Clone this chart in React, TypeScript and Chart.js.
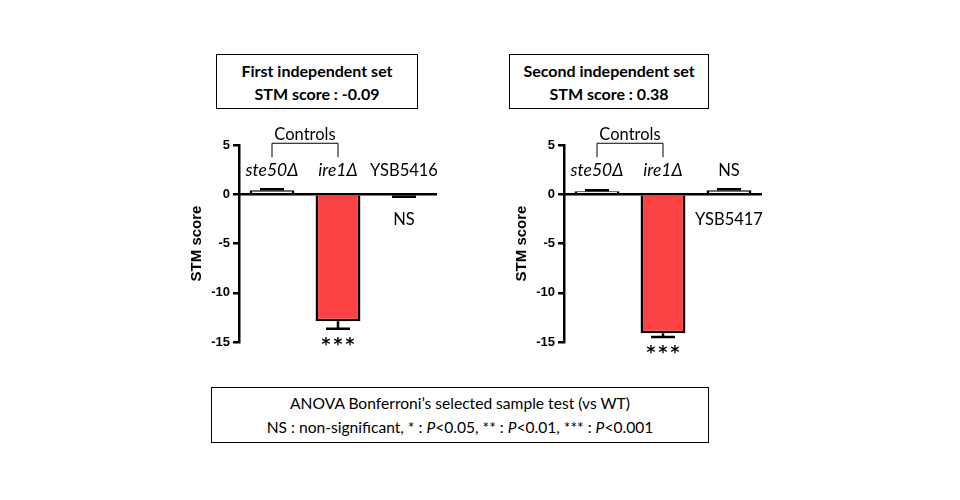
import { useEffect, useRef } from "react"
import { Chart, registerables } from "chart.js"

Chart.register(...registerables)

// first independent set
const strains1 = ["ste50Δ", "ire1Δ", "YSB5416"]
const scores1 = [0.4, -12.9, -0.15]
const sem1 = [0.1, 0.75, 0.1]
const above1 = ["ste50Δ", "ire1Δ", "YSB5416"]
const below1 = ["", "***", "NS"]

// second independent set
const strains2 = ["ste50Δ", "ire1Δ", "YSB5417"]
const scores2 = [0.3, -14.1, 0.4]
const sem2 = [0.1, 0.4, 0.1]
const above2 = ["ste50Δ", "ire1Δ", "NS"]
const below2 = ["", "***", "YSB5417"]

const italicNames = ["ste50Δ", "ire1Δ"]
const yTicks = [5, 0, -5, -10, -15]
const barColors = ["#ffffff", "#fa4242", "#ffffff"]

const labelFont = "16.5px Lato, 'Open Sans', sans-serif"
const italicFont = "italic 17.5px Lato, 'Open Sans', sans-serif"

function makePlugin(above: string[], below: string[], errs: number[]) {
  return {
    id: "annotate",
    afterDatasetsDraw(chart: any) {
      const { ctx, chartArea } = chart
      const x = chart.scales.x
      const y = chart.scales.y
      const vals = chart.data.datasets[0].data as number[]
      const y0 = y.getPixelForValue(0)
      ctx.save()
      ctx.strokeStyle = "#000"
      ctx.lineWidth = 2.5

      // error bars
      vals.forEach((v, i) => {
        const cx = x.getPixelForValue(i)
        const end = v + (v < 0 ? -errs[i] : errs[i])
        const ye = y.getPixelForValue(end)
        ctx.beginPath()
        ctx.moveTo(cx, y.getPixelForValue(v))
        ctx.lineTo(cx, ye)
        ctx.moveTo(cx - 12, ye)
        ctx.lineTo(cx + 12, ye)
        ctx.stroke()
      })

      // zero line
      ctx.beginPath()
      ctx.moveTo(chartArea.left, y0)
      ctx.lineTo(chartArea.right, y0)
      ctx.stroke()

      ctx.fillStyle = "#000"
      ctx.textAlign = "center"
      ctx.textBaseline = "middle"

      above.forEach((t, i) => {
        const cx = x.getPixelForValue(i)
        ctx.font = italicNames.includes(t) ? italicFont : labelFont
        ctx.fillText(t, cx, y0 - 24)
      })

      below.forEach((t, i) => {
        if (!t) return
        const cx = x.getPixelForValue(i)
        if (t === "***") {
          const ye = y.getPixelForValue(vals[i] - errs[i])
          ctx.font = "bold 17px 'DejaVu Sans', sans-serif"
          for (let k = -1; k <= 1; k++) ctx.fillText("*", cx + k * 12, ye + 17)
        } else {
          ctx.font = labelFont
          ctx.fillText(t, cx, y0 + 25)
        }
      })

      // controls bracket
      const a = x.getPixelForValue(0)
      const b = x.getPixelForValue(1)
      ctx.lineWidth = 1
      ctx.beginPath()
      ctx.moveTo(a, y0 - 37)
      ctx.lineTo(a, y0 - 51)
      ctx.lineTo(b, y0 - 51)
      ctx.lineTo(b, y0 - 37)
      ctx.stroke()
      ctx.font = labelFont
      ctx.fillText("Controls", (a + b) / 2, y0 - 60)
      ctx.restore()
    },
  }
}

function ScoreChart(props: {
  left: number
  labels: string[]
  values: number[]
  errs: number[]
  above: string[]
  below: string[]
}) {
  const chartRef = useRef<HTMLCanvasElement | null>(null)

  useEffect(() => {
    if (!chartRef.current) return
    const ctx = chartRef.current.getContext("2d")
    if (!ctx) return

    const chartInstance = new Chart(ctx, {
      type: "bar",
      data: {
        labels: props.labels,
        datasets: [
          {
            data: props.values,
            backgroundColor: barColors,
            borderColor: "#000",
            borderWidth: 2.5,
            barPercentage: 0.68,
            categoryPercentage: 1,
          },
        ],
      },
      options: {
        responsive: false,
        animation: false,
        layout: { padding: { top: 30, right: 23, bottom: 33, left: 0 } },
        plugins: {
          legend: { display: false },
          tooltip: { enabled: false },
        },
        scales: {
          x: { display: false },
          y: {
            min: -15,
            max: 5,
            afterFit: (scale: any) => {
              scale.width = 79
            },
            afterBuildTicks: (scale: any) => {
              scale.ticks = yTicks.map((v) => ({ value: v }))
            },
            ticks: {
              color: "#000",
              padding: 3,
              font: { family: "Arial, 'Liberation Sans'", size: 13, weight: "bold" },
            },
            grid: {
              drawOnChartArea: false,
              drawTicks: true,
              tickLength: 6,
              color: "#000",
              lineWidth: 2.5,
            },
            border: { display: true, color: "#000", width: 2.5 },
            title: {
              display: true,
              text: "STM score",
              color: "#000",
              padding: { top: 28, bottom: 0 },
              font: { family: "Arial, 'Liberation Sans'", size: 15, weight: "bold" },
            },
          },
        },
      },
      plugins: [makePlugin(props.above, props.below, props.errs)],
    })

    return () => {
      chartInstance.destroy()
    }
  }, [])

  return (
    <canvas
      ref={chartRef}
      width={300}
      height={260}
      style={{ position: "absolute", left: props.left, top: 115, width: 300, height: 260 }}
    ></canvas>
  )
}

const boxStyle = {
  position: "absolute" as const,
  boxSizing: "border-box" as const,
  border: "1.5px solid #000",
  display: "flex",
  flexDirection: "column" as const,
  justifyContent: "center",
  alignItems: "center",
  color: "#000",
}

export default function App() {
  return (
    <div
      style={{
        position: "absolute",
        left: 0,
        top: 0,
        width: 960,
        height: 500,
        background: "#fff",
        fontFamily: "Lato, 'Open Sans', sans-serif",
      }}
    >
      <div style={{ ...boxStyle, left: 216, top: 54, width: 202, height: 55, fontWeight: "bold", fontSize: 16, lineHeight: "23px" }}>
        <div>First independent set</div>
        <div>STM score : -0.09</div>
      </div>
      <div style={{ ...boxStyle, left: 509, top: 54, width: 200, height: 55, fontWeight: "bold", fontSize: 16, lineHeight: "23px" }}>
        <div>Second independent set</div>
        <div>STM score : 0.38</div>
      </div>

      <ScoreChart left={160} labels={strains1} values={scores1} errs={sem1} above={above1} below={below1} />
      <ScoreChart left={485} labels={strains2} values={scores2} errs={sem2} above={above2} below={below2} />

      <div style={{ ...boxStyle, left: 211, top: 387, width: 498, height: 56, fontSize: 15.6, lineHeight: "24px" }}>
        <div>ANOVA Bonferroni’s selected sample test (vs WT)</div>
        <div>
          NS : non-significant, * : <i>P</i>&lt;0.05, ** : <i>P</i>&lt;0.01, *** : <i>P</i>&lt;0.001
        </div>
      </div>
    </div>
  )
}
